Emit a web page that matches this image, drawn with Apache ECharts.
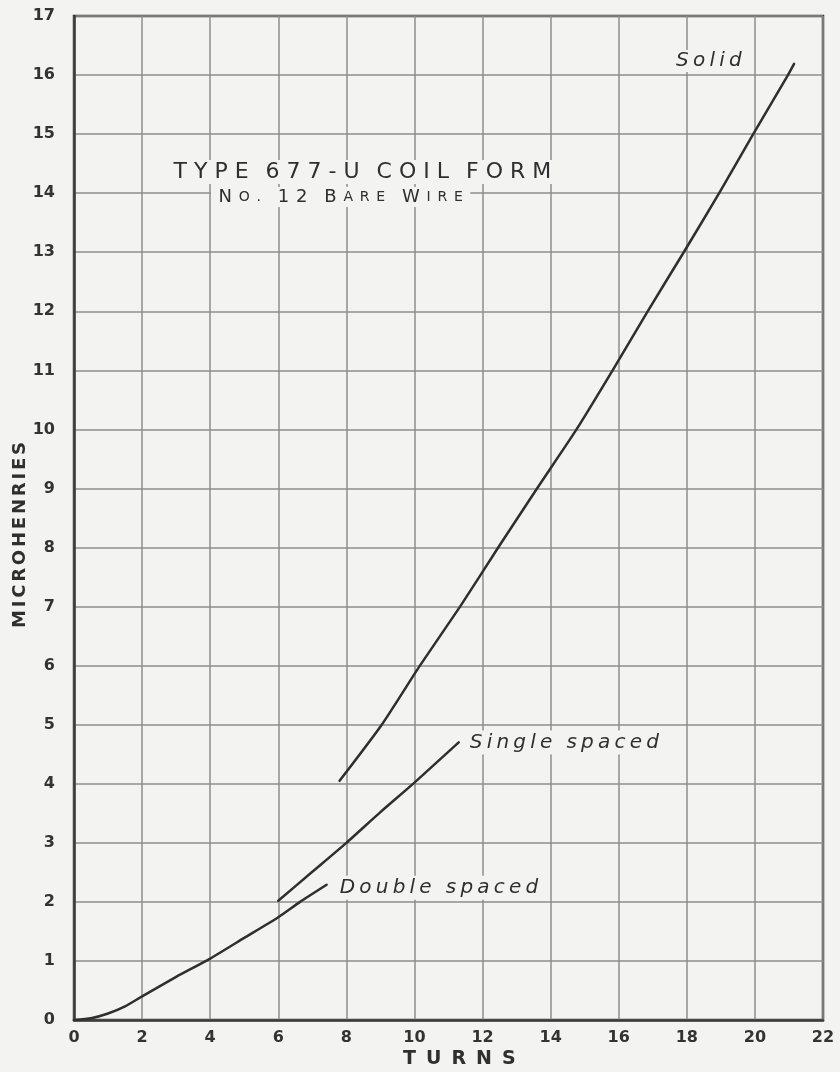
<!DOCTYPE html>
<html>
<head>
<meta charset="utf-8">
<script src="https://cdn.jsdelivr.net/npm/echarts@6/dist/echarts.min.js"></script>
<style>
html,body{margin:0;padding:0;background:#f3f3f1;}
#c{width:840px;height:1072px;}
</style>
</head>
<body>
<div id="c"></div>
<script>
// Axis ticks
const xTicks = [0, 2, 4, 6, 8, 10, 12, 14, 16, 18, 20, 22];
const yTicks = [0, 1, 2, 3, 4, 5, 6, 7, 8, 9, 10, 11, 12, 13, 14, 15, 16, 17];

// Turns (x) and microhenries (y)
const doubleX = [0, 0.5, 1, 1.5, 2, 3, 4, 5, 6, 6.64, 7.42];
const doubleY = [0, 0.03, 0.11, 0.23, 0.40, 0.73, 1.04, 1.39, 1.74, 2.00, 2.29];

const singleX = [6.0, 7, 8, 9, 10, 11.3];
const singleY = [2.02, 2.51, 3.0, 3.52, 4.02, 4.70];

const solidX = [7.80, 9.04, 10.16, 11.34, 12.46, 13.6, 14.76, 15.82, 16.85, 17.91, 18.95, 19.95, 20.97, 21.15];
const solidY = [4.05, 5.0, 6.0, 7.0, 8.0, 9.0, 10.0, 11.0, 12.0, 13.0, 14.0, 15.0, 16.0, 16.19];

const seriesNames = ['Double spaced', 'Single spaced', 'Solid'];
const titleText = 'TYPE 677-U COIL FORM';
const subtitleText = 'No. 12 Bare Wire';
const xName = 'TURNS';
const yName = 'MICROHENRIES';

function pairs(xs, ys) { return xs.map((x, i) => [x, ys[i]]); }

// letter-spaced rich text: every character in its own token, spaces as fixed-width tokens
function spaced(str, key) {
  return str.split('').map(c => c === ' ' ? '{w| }' : '{' + key + '|' + c + '}').join('');
}
// small caps: capitals/digits large, lowercase and dots as small capitals
function smallCaps(str) {
  return str.split('').map(c => {
    if (c === ' ') return '{w| }';
    if (/[a-z.]/.test(c)) return '{s|' + c.toUpperCase() + '}';
    return '{b|' + c + '}';
  }).join('');
}

const paper = '#f3f3f1';
const ink = '#2f2f2f';
const gridColor = '#8e8e8e';
const labelFont = '"DejaVu Sans", sans-serif';

const chart = echarts.init(document.getElementById('c'));

function italicRich(pad, gap) {
  return {
    c: { color: ink, fill: ink, fontFamily: labelFont, fontStyle: 'italic', fontSize: 20, padding: [0, pad] },
    w: { fontSize: 20, width: gap }
  };
}

function curve(name, data, labelOpt) {
  return {
    name: name,
    type: 'line',
    data: data,
    showSymbol: false,
    smooth: 0.2,
    lineStyle: { color: ink, width: 2.5, cap: 'round', join: 'round' },
    z: 5,
    endLabel: Object.assign({
      show: true,
      formatter: () => spaced(name, 'c'),
      backgroundColor: paper,
      padding: [2, 3],
      rich: italicRich(2.1, 10)
    }, labelOpt)
  };
}

chart.setOption({
  backgroundColor: paper,
  animation: false,
  grid: {
    left: 74, right: 17, top: 16, bottom: 52,
    show: true, borderColor: '#3a3a3a', borderWidth: 2.5
  },
  xAxis: {
    type: 'value', min: 0, max: 22, interval: 2,
    axisLine: { show: true, lineStyle: { color: '#3a3a3a', width: 2.5 } },
    axisTick: { show: false },
    axisLabel: {
      color: '#333', fontFamily: labelFont, fontWeight: 'bold', fontSize: 16, margin: 10,
      formatter: v => xTicks.indexOf(v) >= 0 ? String(v) : ''
    },
    splitLine: { show: true, lineStyle: { color: gridColor, width: 1.5 } }
  },
  yAxis: {
    type: 'value', min: 0, max: 17, interval: 1,
    axisLine: { show: true, lineStyle: { color: '#3a3a3a', width: 2.5 } },
    axisTick: { show: false },
    axisLabel: {
      color: '#333', fontFamily: labelFont, fontWeight: 'bold', fontSize: 16, margin: 19,
      formatter: v => yTicks.indexOf(v) >= 0 ? String(v) : ''
    },
    splitLine: { show: true, lineStyle: { color: gridColor, width: 1.5 } }
  },
  series: [
    curve(seriesNames[0], pairs(doubleX, doubleY), { distance: 8, offset: [0, 3] }),
    curve(seriesNames[1], pairs(singleX, singleY), { distance: 6, offset: [0, 0] }),
    Object.assign(curve(seriesNames[2], pairs(solidX, solidY), {}), { endLabel: { show: false } })
  ],
  graphic: [
    {
      type: 'text', left: 168, top: 160, z: 10,
      style: {
        text: spaced(titleText, 't'),
        backgroundColor: paper, padding: [1, 2],
        rich: {
          t: { fontSize: 22, fontFamily: labelFont, fill: ink, padding: [0, 3.5] },
          w: { fontSize: 22, width: 10 }
        }
      }
    },
    {
      type: 'text', left: 211, top: 187, z: 10,
      style: {
        text: smallCaps(subtitleText),
        backgroundColor: paper, padding: [1, 4],
        rich: {
          b: { fontSize: 18, fontFamily: labelFont, fill: ink, padding: [0, 3.4] },
          s: { fontSize: 14, fontFamily: labelFont, fill: ink, padding: [0, 3.4] },
          w: { fontSize: 18, width: 10 }
        }
      }
    },
    {
      type: 'text', left: 672, top: 50, z: 10,
      style: {
        text: spaced(seriesNames[2], 'c'),
        backgroundColor: paper, padding: [1, 2],
        rich: italicRich(2.1, 10)
      }
    },
    {
      type: 'text', left: 11, top: 442, z: 10,
      rotation: Math.PI / 2,
      originX: 0, originY: 0,
      style: {
        text: spaced(yName, 'y'),
        textAlign: 'left', textVerticalAlign: 'bottom',
        rich: { y: { fontSize: 18, fontWeight: 'bold', fontFamily: labelFont, fill: ink, padding: [0, 1.4] } }
      }
    },
    {
      type: 'text', left: 403, top: 1050, z: 10,
      style: {
        text: spaced(xName, 'x'),
        rich: { x: { fontSize: 19, fontWeight: 'bold', fontFamily: labelFont, fill: ink, padding: [0, 5] } }
      }
    }
  ]
});
</script>
</body>
</html>
